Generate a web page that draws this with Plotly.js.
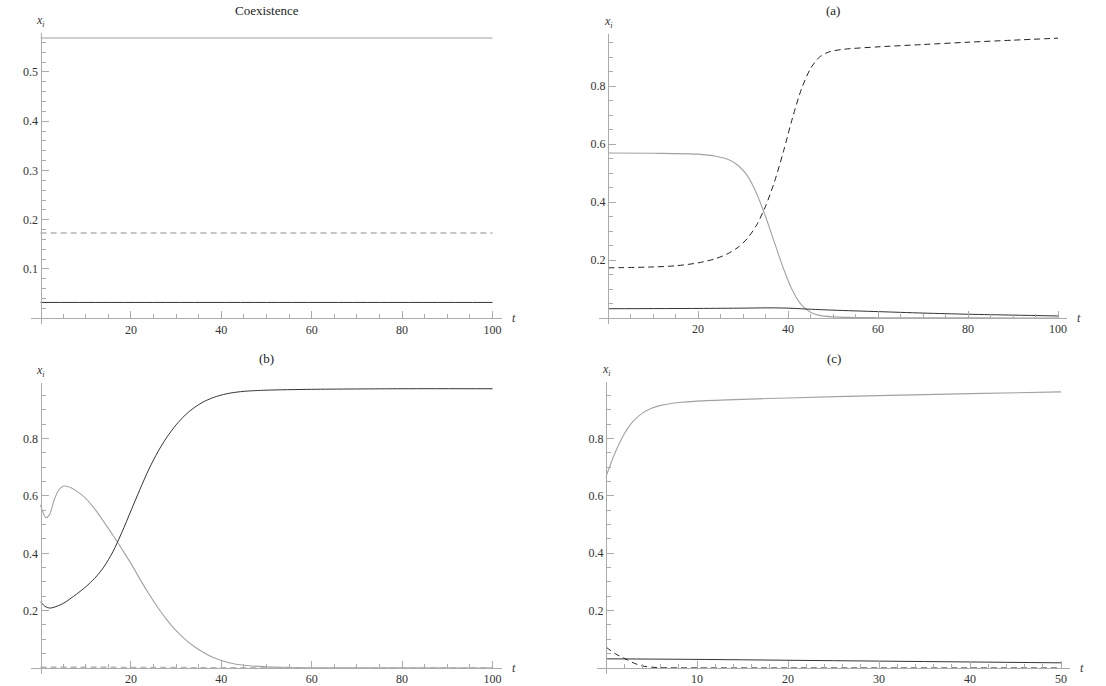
<!DOCTYPE html>
<html>
<head>
<meta charset="utf-8">
<script src="https://cdn.plot.ly/plotly-3.0.1.min.js"></script>
<style>html,body{margin:0;padding:0;background:#fff;}#chart{width:1106px;height:686px;}</style>
</head>
<body>
<div id="chart"></div>
<script>
// ---------------- DATA ----------------
// Panel "Coexistence"
const tCoex = [0, 25, 50, 75, 100];
const coexGray = [0.569, 0.569, 0.569, 0.569, 0.569];
const coexDashed = [0.173, 0.173, 0.173, 0.173, 0.173];
const coexBlack = [0.032, 0.032, 0.032, 0.032, 0.032];

// Panel (a)
const tAGray = [0, 10, 20, 24, 27, 29, 31, 33, 35, 37, 39, 41, 43, 45, 47, 50, 60, 80, 100];
const aGray = [0.569, 0.568, 0.565, 0.558, 0.545, 0.525, 0.49, 0.43, 0.35, 0.26, 0.17, 0.095, 0.045, 0.02, 0.009, 0.004, 0.001, 0.0003, 0.0001];
const tADashed = [0, 10, 15, 20, 24, 27, 29, 31, 33, 35, 37, 39, 41, 43, 45, 47, 49, 52, 60, 70, 80, 90, 100];
const aDashed = [0.173, 0.176, 0.18, 0.19, 0.205, 0.225, 0.245, 0.275, 0.32, 0.385, 0.47, 0.575, 0.69, 0.79, 0.86, 0.9, 0.917, 0.926, 0.935, 0.943, 0.951, 0.958, 0.965];
const tABlack = [0, 20, 30, 36, 40, 44, 50, 60, 70, 80, 90, 100];
const aBlack = [0.032, 0.033, 0.034, 0.035, 0.034, 0.031, 0.027, 0.022, 0.017, 0.013, 0.010, 0.007];

// Panel (b)
const tBGray = [0, 0.5, 1.2, 2, 3, 4, 5, 6, 8, 10, 12, 14, 16, 18, 20, 22, 24, 26, 28, 30, 32, 34, 36, 38, 40, 43, 46, 50, 60, 100];
const bGray = [0.569, 0.545, 0.524, 0.535, 0.585, 0.62, 0.634, 0.633, 0.617, 0.592, 0.555, 0.51, 0.464, 0.415, 0.365, 0.31, 0.258, 0.21, 0.167, 0.13, 0.1, 0.075, 0.055, 0.038, 0.026, 0.014, 0.008, 0.004, 0.001, 0.0001];
const tBBlack = [0, 1, 2, 3, 5, 8, 10, 12, 14, 16, 18, 20, 22, 24, 26, 28, 30, 32, 34, 36, 38, 40, 42, 45, 50, 60, 80, 100];
const bBlack = [0.231, 0.215, 0.209, 0.212, 0.225, 0.258, 0.283, 0.313, 0.352, 0.405, 0.473, 0.548, 0.623, 0.694, 0.755, 0.806, 0.848, 0.882, 0.908, 0.928, 0.942, 0.952, 0.959, 0.965, 0.969, 0.972, 0.974, 0.974];
const tBDashed = [0, 20, 40, 60, 80, 100];
const bDashed = [0.003, 0.002, 0.001, 0.001, 0.001, 0.001];

// Panel (c)
const tCGray = [0, 0.5, 1, 1.5, 2, 2.5, 3, 4, 5, 6, 7, 8, 10, 15, 20, 30, 40, 50];
const cGray = [0.667, 0.71, 0.75, 0.785, 0.815, 0.84, 0.86, 0.888, 0.905, 0.915, 0.921, 0.925, 0.93, 0.936, 0.941, 0.949, 0.956, 0.962];
const tCBlack = [0, 10, 20, 30, 40, 50];
const cBlack = [0.032, 0.03, 0.027, 0.024, 0.021, 0.018];
const tCDashed = [0, 1, 2, 3, 4, 5, 6, 10, 20, 30, 40, 50];
const cDashed = [0.073, 0.05, 0.034, 0.018, 0.007, 0.003, 0.001, 0.0003, 0.0001, 0.0001, 0.0001, 0.0001];

// Tick labels / titles
const panelTitles = ["Coexistence", "(a)", "(b)", "(c)"];
const xTicks100 = [20, 40, 60, 80, 100];
const xTicks50 = [10, 20, 30, 40, 50];
const yTicksCoex = [0.1, 0.2, 0.3, 0.4, 0.5];
const yTicks1 = [0.2, 0.4, 0.6, 0.8];
const yAxisLabel = 'x<sub>i</sub>';
const xAxisLabel = 't';

// ---------------- LAYOUT ----------------
const W = 1106, H = 686;
const GRAY = '#a2a2a2', BLACK = '#333333', DGRAY = '#b4b4b4', AX = '#ababab';
const FONT = 'Liberation Serif, Times New Roman, serif';

function range(a, b, s) { const r = []; for (let v = a; v <= b + 1e-9; v += s) r.push(+v.toFixed(4)); return r; }

// pixel boxes: x0 = px of t=0, sx = px/unit, y0 = px of value 0, sy = px/unit
const panels = [
  {x0: 40.5, sx: 4.52, xr: [-2, 102], y0: 318.2, sy: 492.5, yr: [-0.012, 0.58], xt: xTicks100, xm: range(5, 100, 5), yt: yTicksCoex, ym: range(0.02, 0.58, 0.02)},
  {x0: 608, sx: 4.5, xr: [-2, 102], y0: 318, sy: 290, yr: [-0.02, 0.98], xt: xTicks100, xm: range(5, 100, 5), yt: yTicks1, ym: range(0.05, 0.95, 0.05)},
  {x0: 40.5, sx: 4.52, xr: [-2, 102], y0: 668, sy: 286.7, yr: [-0.02, 0.995], xt: xTicks100, xm: range(5, 100, 5), yt: yTicks1, ym: range(0.05, 0.95, 0.05)},
  {x0: 606, sx: 9.1, xr: [-1, 51], y0: 668, sy: 287, yr: [-0.02, 0.995], xt: xTicks50, xm: range(2, 50, 2), yt: yTicks1, ym: range(0.05, 0.95, 0.05)}
];

const layout = {
  width: W, height: H,
  margin: {l: 0, r: 0, t: 0, b: 0},
  paper_bgcolor: '#fff', plot_bgcolor: 'rgba(0,0,0,0)',
  showlegend: false,
  annotations: [],
  font: {family: FONT}
};

panels.forEach((p, i) => {
  const n = i + 1;
  const px0 = p.x0 + p.xr[0] * p.sx, px1 = p.x0 + p.xr[1] * p.sx;
  const pyTop = p.y0 - p.yr[1] * p.sy, pyBot = p.y0 - p.yr[0] * p.sy;
  const xd = [px0 / W, px1 / W];
  const yd = [1 - pyBot / H, 1 - pyTop / H];
  const xPos = yd[0] + (0 - p.yr[0]) / (p.yr[1] - p.yr[0]) * (yd[1] - yd[0]);
  const yPos = xd[0] + (0 - p.xr[0]) / (p.xr[1] - p.xr[0]) * (xd[1] - xd[0]);
  const sfx = n === 1 ? '' : n;
  layout['xaxis' + sfx] = {
    domain: xd, range: p.xr, anchor: 'free', position: xPos,
    showline: true, linecolor: AX, linewidth: 1, zeroline: false, showgrid: false,
    ticks: 'inside', ticklen: 7, tickcolor: AX, tickwidth: 1,
    tickmode: 'array', tickvals: p.xt, ticktext: p.xt.map(String),
    tickfont: {family: FONT, size: 12, color: '#333'},
    minor: {tickmode: 'array', tickvals: p.xm, ticks: 'inside', ticklen: 4, tickcolor: AX, tickwidth: 1, showgrid: false},
    fixedrange: true
  };
  layout['yaxis' + sfx] = {
    domain: yd, range: p.yr, anchor: 'free', position: yPos,
    showline: true, linecolor: AX, linewidth: 1, zeroline: false, showgrid: false,
    ticks: 'inside', ticklen: 7, tickcolor: AX, tickwidth: 1,
    tickmode: 'array', tickvals: p.yt, ticktext: p.yt.map(v => v.toFixed(1)),
    tickfont: {family: FONT, size: 12, color: '#333'},
    minor: {tickmode: 'array', tickvals: p.ym, ticks: 'inside', ticklen: 4, tickcolor: AX, tickwidth: 1, showgrid: false},
    fixedrange: true
  };
  const cx = (px0 + px1) / 2;
  const titleY = i < 2 ? 10 : 358;
  layout.annotations.push({xref: 'paper', yref: 'paper', x: cx / W, y: 1 - titleY / H, text: panelTitles[i], showarrow: false,
    font: {family: FONT, size: 13, color: '#222'}, xanchor: 'center', yanchor: 'middle'});
  layout.annotations.push({xref: 'paper', yref: 'paper', x: p.x0 / W, y: 1 - (pyTop - 12) / H, text: yAxisLabel, showarrow: false,
    font: {family: FONT, size: 12, color: '#333', style: 'italic'}, xanchor: 'center', yanchor: 'middle'});
  layout.annotations.push({xref: 'paper', yref: 'paper', x: (px1 + 12) / W, y: 1 - p.y0 / H, text: xAxisLabel, showarrow: false,
    font: {family: FONT, size: 12, color: '#333', style: 'italic'}, xanchor: 'center', yanchor: 'middle'});
});

function tr(n, x, y, color, dash, width) {
  const sfx = n === 1 ? '' : n;
  return {x: x, y: y, type: 'scatter', mode: 'lines', xaxis: 'x' + sfx, yaxis: 'y' + sfx,
    line: {color: color, width: width || 1, dash: dash || 'solid', shape: 'spline', smoothing: 0.8}, hoverinfo: 'skip'};
}

const data = [
  tr(1, tCoex, coexGray, GRAY, 'solid', 1.1),
  tr(1, tCoex, coexDashed, DGRAY, '6px,4px', 1.5),
  tr(1, tCoex, coexBlack, BLACK, 'solid', 1),
  tr(2, tAGray, aGray, GRAY, 'solid', 1.1),
  tr(2, tADashed, aDashed, '#222', '6px,4px', 1),
  tr(2, tABlack, aBlack, BLACK, 'solid', 1),
  tr(3, tBGray, bGray, GRAY, 'solid', 1.1),
  tr(3, tBBlack, bBlack, BLACK, 'solid', 1),
  tr(3, tBDashed, bDashed, DGRAY, '6px,4px', 1.5),
  tr(4, tCGray, cGray, GRAY, 'solid', 1.1),
  tr(4, tCBlack, cBlack, BLACK, 'solid', 1),
  tr(4, tCDashed, cDashed, '#222', '6px,4px', 1)
];

Plotly.newPlot('chart', data, layout, {staticPlot: true, displayModeBar: false});
</script>
</body>
</html>
